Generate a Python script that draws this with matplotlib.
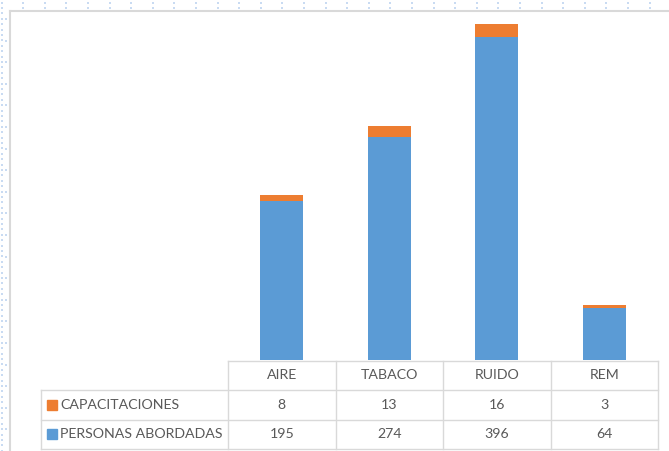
import numpy as np
import matplotlib
matplotlib.use('Agg')
import matplotlib.pyplot as plt
from matplotlib.lines import Line2D

# data
categorias = ['AIRE', 'TABACO', 'RUIDO', 'REM']
capacitaciones = [8, 13, 16, 3]
personas = [195, 274, 396, 64]
series_names = ['CAPACITACIONES', 'PERSONAS ABORDADAS']

azul = '#5b9bd5'
naranja = '#ed7d31'
gris_txt = '#595959'
gris_lin = '#d9d9d9'
plt.rcParams['font.family'] = ['Lato', 'DejaVu Sans']

W, H = 669, 451
fig = plt.figure(figsize=(W/100, H/100), dpi=100)

# bars
ax = fig.add_axes([228/W, (H-360)/H, 430/W, 350.5/H])
x = np.arange(len(categorias))
ax.bar(x, personas, 0.4, color=azul)
ax.bar(x, capacitaciones, 0.4, bottom=personas, color=naranja)
ax.set_xlim(-0.5, 3.5)
ax.set_ylim(0, 430)
ax.axis('off')

# data table under the bars
def px2x(p):
    return -0.5 + (p - 228)/107.5

rh = 29.5
tab = fig.add_axes([228/W, 0, 430/W, (H-360)/H])
tab.set_xlim(-0.5, 3.5)
tab.set_ylim((H-360.5)/rh, -0.5/rh)
tab.axis('off')
xl = px2x(41)
kw = dict(color=gris_lin, lw=1, clip_on=False)
tab.plot([-0.5, 3.5], [0, 0], **kw)
for r in [1, 2, 3]:
    tab.plot([xl, 3.5], [r, r], **kw)
for c in np.arange(-0.5, 4, 1):
    tab.plot([c, c], [0, 3], **kw)
tab.plot([xl, xl], [1, 3], **kw)

fs = 10.2
for i, cat in enumerate(categorias):
    tab.text(i, 0.5, cat, ha='center', va='center', color=gris_txt, fontsize=fs)
    tab.text(i, 1.5, str(capacitaciones[i]), ha='center', va='center', color=gris_txt, fontsize=fs)
    tab.text(i, 2.5, str(personas[i]), ha='center', va='center', color=gris_txt, fontsize=fs)
for r, name, col in [(1.5, series_names[0], naranja), (2.5, series_names[1], azul)]:
    tab.plot([px2x(52)], [r], marker='s', ms=6.5, color=col, clip_on=False)
    tab.text(px2x(60), r, name, ha='left', va='center', color=gris_txt, fontsize=fs, clip_on=False)

# chart border (gray) and sheet ruler dots
fig.add_artist(Line2D([10/W, 1], [1-11/H, 1-11/H], color=gris_lin, lw=1.5))
fig.add_artist(Line2D([10/W, 10/W], [0, 1-11/H], color=gris_lin, lw=1.5))
dots = '#c9dbf2'
px = np.arange(1.5, W, 21.6)
for yy in [2.5, 7.5]:
    fig.add_artist(Line2D(px/W, np.full(len(px), 1-yy/H), ls='none', marker='s', ms=1.5, color=dots, mew=0))
py = np.arange(19, H, 21.6)
fig.add_artist(Line2D(np.full(len(py), 6.5/W), 1-py/H, ls='none', marker='s', ms=1.5, color=dots, mew=0))
py2 = np.arange(2.5, H, 5.4)
fig.add_artist(Line2D(np.full(len(py2), 1.5/W), 1-py2/H, ls='none', marker='s', ms=1.5, color=dots, mew=0))

fig.savefig('out.png', dpi=100)
